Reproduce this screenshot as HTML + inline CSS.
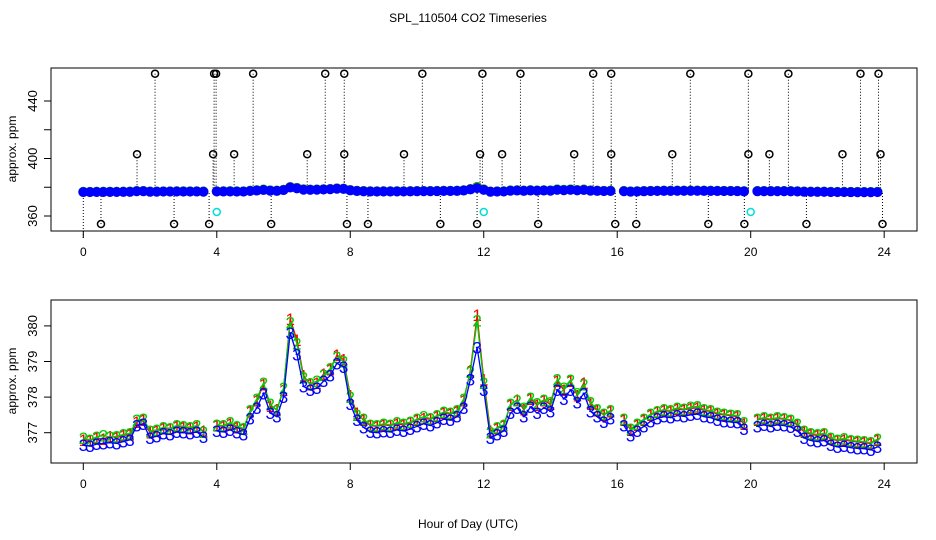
<!DOCTYPE html>
<html><head><meta charset="utf-8"><style>
body{margin:0;background:#fff}
svg{display:block;font-family:"Liberation Sans",sans-serif}
</style></head><body>
<svg id="c" width="936" height="540">
<text x="468" y="22" text-anchor="middle" font-size="12">SPL_110504  CO2 Timeseries</text>
<text x="468" y="528" text-anchor="middle" font-size="12">Hour of Day (UTC)</text>
<text transform="translate(16,149) rotate(-90)" text-anchor="middle" font-size="12">approx. ppm</text>
<text transform="translate(16,381) rotate(-90)" text-anchor="middle" font-size="12">approx. ppm</text>
</svg>
<script>
const hourStep = 0.2;
const s1 = [376.80,376.78,376.85,376.82,376.90,376.86,376.92,376.95,377.30,377.35,377.00,377.05,377.12,377.10,377.18,377.15,377.12,377.16,377.05,null,
377.20,377.18,377.25,377.15,377.10,377.60,377.90,378.35,377.75,377.65,378.20,380.20,379.60,378.60,378.35,378.40,378.65,378.78,379.18,379.05,
378.05,377.55,377.35,377.20,377.18,377.22,377.20,377.25,377.22,377.28,377.35,377.40,377.38,377.45,377.55,377.52,377.60,377.90,378.75,380.30,
378.50,377.05,377.12,377.20,377.78,377.92,377.65,377.95,377.78,377.90,377.80,378.45,378.20,378.45,378.05,378.40,377.80,377.62,377.50,377.60,
null,377.36,377.08,377.22,377.36,377.50,377.58,377.62,377.60,377.66,377.64,377.68,377.70,377.62,377.60,377.52,377.50,377.48,377.45,377.25,
null,377.36,377.40,377.35,377.40,377.38,377.34,377.22,377.02,376.95,376.92,376.95,376.82,376.78,376.80,376.76,376.74,376.72,376.70,376.80];
const s2 = [376.85,376.80,376.88,376.92,376.88,376.90,376.95,376.98,377.35,377.38,377.05,377.08,377.15,377.12,377.20,377.18,377.15,377.20,377.02,null,
377.22,377.20,377.28,377.18,377.12,377.62,377.95,378.40,377.80,377.62,378.25,380.10,379.50,378.55,378.38,378.45,378.62,378.80,379.12,379.00,
378.00,377.50,377.38,377.22,377.20,377.25,377.22,377.28,377.25,377.30,377.38,377.45,377.40,377.48,377.58,377.55,377.62,377.95,378.70,380.15,
378.40,377.00,377.15,377.22,377.80,377.90,377.70,377.98,377.82,377.92,377.85,378.50,378.25,378.48,378.10,378.35,377.85,377.65,377.52,377.62,
null,377.38,377.10,377.25,377.38,377.52,377.60,377.65,377.62,377.70,377.66,377.72,377.74,377.65,377.62,377.55,377.52,377.50,377.48,377.28,
null,377.38,377.42,377.38,377.42,377.40,377.36,377.25,377.05,376.98,376.95,376.98,376.85,376.80,376.84,376.78,376.76,376.75,376.72,376.82];
const s3 = [376.65,376.62,376.68,376.70,376.72,376.70,376.75,376.80,377.20,377.25,376.85,376.90,376.98,376.95,377.02,377.00,376.98,377.02,376.88,null,
377.05,377.02,377.08,377.00,376.95,377.40,377.70,378.10,377.55,377.45,378.00,379.80,379.20,378.30,378.20,378.25,378.45,378.60,378.95,378.85,
377.80,377.35,377.15,377.02,377.00,377.04,377.02,377.08,377.05,377.10,377.18,377.25,377.20,377.28,377.38,377.35,377.45,377.70,378.50,379.40,
378.20,376.85,376.95,377.05,377.55,377.70,377.45,377.72,377.55,377.70,377.60,378.20,377.95,378.20,377.85,378.10,377.60,377.45,377.30,377.40,
null,377.20,376.92,377.05,377.18,377.32,377.40,377.45,377.42,377.48,377.46,377.50,377.52,377.45,377.42,377.35,377.32,377.30,377.28,377.10,
null,377.18,377.22,377.18,377.22,377.20,377.16,377.05,376.85,376.78,376.75,376.78,376.65,376.60,376.62,376.58,376.56,376.55,376.52,376.60];
const outlierHours = [2.15,3.92,3.98,5.09,7.25,7.82,10.16,11.96,13.1,15.28,15.82,18.19,19.93,21.13,23.29,23.83,
1.61,3.89,4.52,6.71,7.82,9.61,11.89,12.55,14.71,15.82,17.65,19.93,20.56,22.75,23.89,
0.53,2.72,3.77,5.63,7.9,8.53,10.7,11.8,13.63,15.94,16.57,18.73,19.81,21.67,23.95];
const outlierValues = [459,459,459,459,459,459,459,459,459,459,459,459,459,459,459,459,
403,403,403,403,403,403,403,403,403,403,403,403,403,403,403,
354.4,354.4,354.4,354.4,354.4,354.4,354.4,354.4,354.4,354.4,354.4,354.4,354.4,354.4,354.4];
const calHours = [4.0,12.0,20.0];
const calValues = [362.8,362.8,362.8];
const xTicks = [0,4,8,12,16,20,24];
const topYTicks = [360,380,400,420,440];
const topYLabels = ["360","","400","","440"];
const botYTicks = [377,378,379,380];

const NS="http://www.w3.org/2000/svg";
const svg=document.getElementById('c');
function mk(tag,attrs,parent){const e=document.createElementNS(NS,tag);for(const k in attrs)e.setAttribute(k,attrs[k]);(parent||svg).appendChild(e);return e;}
const xS=h=>83.3+h*33.37;
const yTop=v=>216-(v-360)*1.4375;
const yBot=v=>432.7-(v-377)*35.6;

function axes(top,bottom,name,ticks,yfun,labels){
  const b=mk('rect',{x:51,y:top,width:866,height:bottom-top,fill:'none',stroke:'#000','stroke-width':1});
  
  
  xTicks.forEach(t=>{
    const l=mk('line',{x1:xS(t),x2:xS(t),y1:bottom,y2:bottom+7,stroke:'#000'});
    
    
    const tx=mk('text',{x:xS(t),y:bottom+25,'text-anchor':'middle','font-size':12});
    tx.textContent=t;
    
    
  });
  ticks.forEach((t,i)=>{
    const y=yfun(t);
    const l=mk('line',{x1:44,x2:51,y1:y,y2:y,stroke:'#000'});
    
    
    const lab=labels?labels[i]:String(t);
    if(lab){
      const tx=mk('text',{transform:`translate(37,${y}) rotate(-90)`,'text-anchor':'middle','font-size':13});
      tx.textContent=lab;
      
      
    }
  });
}
axes(68,231,'top',topYTicks,yTop,topYLabels);
axes(300,463,'bottom',botYTicks,yBot,null);

function pathOf(arr,yf){let d='',pen=false;arr.forEach((v,i)=>{if(v==null){pen=false;return;}d+=(pen?'L':'M')+xS(i*hourStep).toFixed(1)+','+yf(v).toFixed(1);pen=true;});return d;}

outlierHours.forEach((h,i)=>{
  const l=mk('line',{x1:xS(h),x2:xS(h),y1:yTop(outlierValues[i]),y2:yTop(376.7),stroke:'#000','stroke-dasharray':'1,2'});
  
  
});
const g0=mk('line',{x1:xS(0),x2:xS(0),y1:yTop(376.7),y2:238,stroke:'#000','stroke-dasharray':'1,2'});


[[s1,'#f00'],[s2,'#0c0'],[s3,'#00f']].forEach(([arr,col],k)=>{
  const p=mk('path',{d:pathOf(arr,yTop),fill:'none',stroke:col,'stroke-width':7,'stroke-linecap':'round','stroke-linejoin':'round'});
  
  
  arr.forEach((v,i)=>{
    if(v==null)return;
    const c=mk('circle',{cx:xS(i*hourStep),cy:yTop(v),r:3.8,fill:'none',stroke:col,'stroke-width':2.4});
    
    
  });
});
outlierHours.forEach((h,i)=>{
  const c=mk('circle',{cx:xS(h),cy:yTop(outlierValues[i]),r:3.5,fill:'none',stroke:'#000','stroke-width':1.5});
  
  
});
calHours.forEach((h,i)=>{
  const c=mk('circle',{cx:xS(h),cy:yTop(calValues[i]),r:3.5,fill:'none',stroke:'#0dd','stroke-width':1.5});
  
  
});

[[s1,'#f00','1'],[s2,'#0c0','2'],[s3,'#00f','3']].forEach(([arr,col,ch],k)=>{
  const p=mk('path',{d:pathOf(arr,yBot),fill:'none',stroke:col,'stroke-width':1.3});
  
  
  arr.forEach((v,i)=>{
    if(v==null)return;
    const t=mk('text',{x:xS(i*hourStep),y:yBot(v)+6,'text-anchor':'middle','font-size':17,fill:col});
    t.textContent=ch;
    
    
  });
});
</script>
</body></html>
